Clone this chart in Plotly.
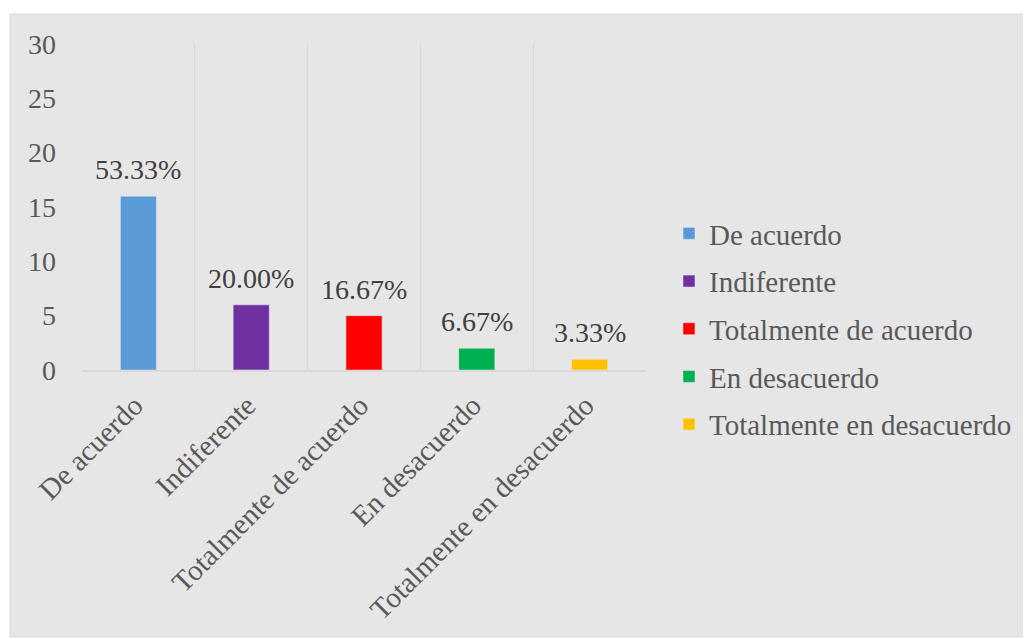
import plotly.graph_objects as go

categories = ["De acuerdo", "Indiferente", "Totalmente de acuerdo", "En desacuerdo", "Totalmente en desacuerdo"]
values = [16, 6, 5, 2, 1]
labels = ["53.33%", "20.00%", "16.67%", "6.67%", "3.33%"]
colors = ["#5b9bd5", "#7030a0", "#ff0000", "#00b050", "#ffc000"]

OFF = 8  # page body margin
W, H = 1031 - OFF, 639 - OFF
L, R, T, B = 82 - OFF, 646 - OFF, 44 - OFF, 370 - OFF
pw, ph = R - L, B - T
FONT = "Liberation Serif"

fig = go.Figure()
for i, c in enumerate(categories):
    fig.add_trace(go.Bar(
        x=[c], y=[values[i]], name=c, marker_color=colors[i],
        width=0.32, legendgroup=c, cliponaxis=False,
    ))
    fig.add_annotation(x=c, y=values[i], text=labels[i], showarrow=False,
                       yanchor="bottom", yshift=9,
                       font=dict(family=FONT, size=28, color="#404040"))

def px(x):
    return (x - OFF - L) / pw

def py(y):
    return (B - (y - OFF)) / ph

fig.add_shape(type="rect", xref="paper", yref="paper",
              x0=px(10), x1=px(1030), y0=py(637), y1=py(14),
              fillcolor="#e7e6e6", line=dict(color="#d9d9d9", width=1), layer="below")

fig.update_layout(
    width=W, height=H,
    margin=dict(l=L, r=W - R, t=T, b=H - B, autoexpand=False),
    paper_bgcolor="white", plot_bgcolor="rgba(0,0,0,0)",
    barmode="overlay",
    font=dict(family=FONT, size=28, color="#595959"),
    showlegend=True,
    legend=dict(x=px(669), y=py(208), xanchor="left", yanchor="top",
                bgcolor="rgba(0,0,0,0)", tracegroupgap=7, itemwidth=30,
                font=dict(family=FONT, size=29, color="#595959")),
    xaxis=dict(tickangle=-45, showgrid=True, gridcolor="#d9d9d9", tickson="boundaries",
               ticks="", showline=True, linecolor="#d9d9d9", linewidth=2, automargin=False,
               ticklabelstandoff=5, ticklabelshift=-4,
               tickfont=dict(family=FONT, size=29, color="#595959")),
    yaxis=dict(range=[0, 30], dtick=5, showgrid=False, zeroline=False, showline=False,
               ticks="", ticklabelstandoff=25, automargin=False,
               tickfont=dict(family=FONT, size=28, color="#595959")),
)

fig.write_html("out.html")
